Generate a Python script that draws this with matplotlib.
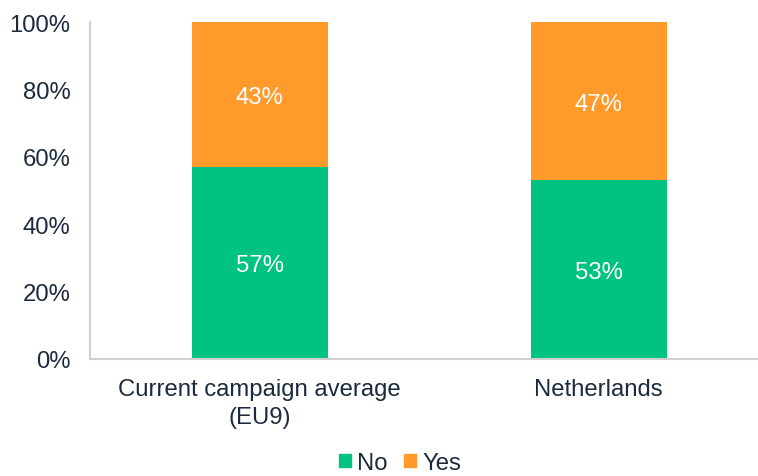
import matplotlib
matplotlib.use("Agg")
import matplotlib.pyplot as plt
from matplotlib.patches import Patch

categories = ["Current campaign average\n(EU9)", "Netherlands"]
no_values = [57, 53]
yes_values = [43, 47]
series_names = ["No", "Yes"]
colors = ["#00C281", "#FF9A2B"]
text_color = "#1B2A3D"

plt.rcParams["font.family"] = ["Liberation Sans", "DejaVu Sans"]
fs = 17.2

fig = plt.figure(figsize=(7.58, 4.77), dpi=100)
ax = fig.add_axes([90 / 758, 1 - 360 / 477, 1 - 90 / 758, 337 / 477])

x = list(range(len(categories)))
width = 136 / 339
ax.bar(x, no_values, width=width, color=colors[0])
ax.bar(x, yes_values, width=width, bottom=no_values, color=colors[1])

for i in x:
    ax.text(i, no_values[i] / 2, f"{no_values[i]}%", ha="center", va="center_baseline",
            color="white", fontsize=fs)
    ax.text(i, no_values[i] + yes_values[i] / 2, f"{yes_values[i]}%", ha="center",
            va="center_baseline", color="white", fontsize=fs)

ax.set_xlim(-0.5, 1.47)
ax.set_ylim(0, 100)
ax.set_yticks(range(0, 101, 20))
ax.set_yticklabels([f"{v}%" for v in range(0, 101, 20)])
ax.set_xticks(x)
ax.set_xticklabels(categories, linespacing=1.3)
ax.tick_params(axis="both", length=0, colors=text_color, labelsize=fs)
ax.tick_params(axis="y", pad=14)
ax.tick_params(axis="x", pad=14)
for side in ["top", "right"]:
    ax.spines[side].set_visible(False)
for side in ["left", "bottom"]:
    ax.spines[side].set_color("#D0D0D0")
    ax.spines[side].set_linewidth(1.5)

handles = [Patch(color=c, label=n) for c, n in zip(colors, series_names)]
fig.legend(handles=handles, loc="center", bbox_to_anchor=(400 / 758, 1 - 464 / 477),
           ncol=2, frameon=False, fontsize=fs, handlelength=0.5, handleheight=0.5,
           handletextpad=0.25, columnspacing=0.72, labelcolor=text_color,
           borderpad=0.1)

fig.savefig("out.png", dpi=100)
